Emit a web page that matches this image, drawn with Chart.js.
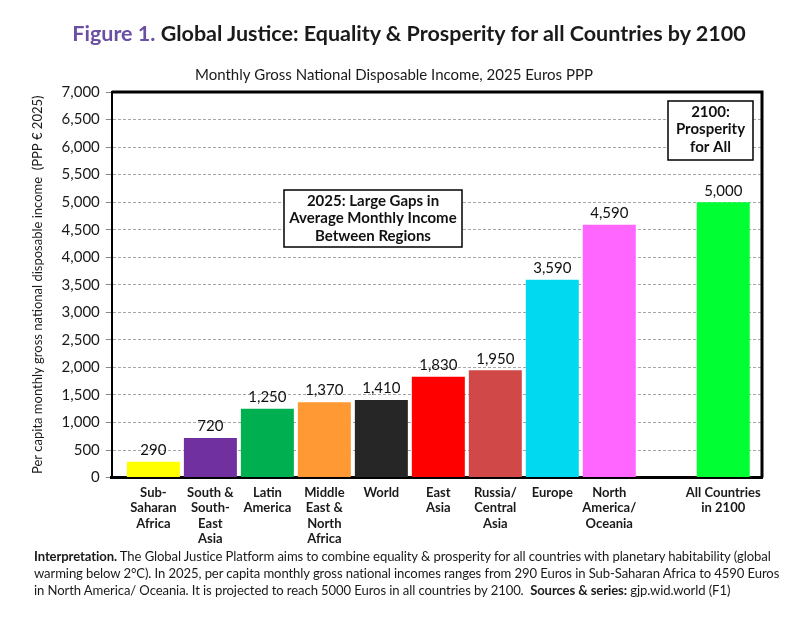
<!DOCTYPE html>
<html>
<head>
<meta charset="utf-8">
<script src="https://cdn.jsdelivr.net/npm/chart.js@4.4.1/dist/chart.umd.min.js"></script>
<style>
  body { margin: 0; background: #fff; font-family: Lato, sans-serif; }
  #wrap { position: relative; width: 810px; height: 624px; }
  #chart { position: absolute; left: 0; top: 0; }
  #title { position: absolute; left: 4px; width: 810px; top: 20px; text-align: center;
           font-size: 21.5px; font-weight: 700; color: #1a1a1a; white-space: nowrap; }
  #title span { color: #6b4fa3; }
  #note { position: absolute; left: 34px; top: 548px; font-size: 13.1px; line-height: 17px;
          color: #1a1a1a; white-space: nowrap; letter-spacing: -0.1px; }
</style>
</head>
<body>
<div id="wrap">
  <canvas id="chart" width="810" height="624"></canvas>
  <div id="title"><span>Figure 1.</span> Global Justice: Equality &amp; Prosperity for all Countries by 2100</div>
  <div id="note"><b>Interpretation.</b> The Global Justice Platform aims to combine equality &amp; prosperity for all countries with planetary habitability (global<br>warming below 2°C). In 2025, per capita monthly gross national incomes ranges from 290 Euros in Sub-Saharan Africa to 4590 Euros<br>in North America/ Oceania. It is projected to reach 5000 Euros in all countries by 2100.&nbsp; <b>Sources &amp; series:</b> gjp.wid.world (F1)</div>
</div>
<script>
const regions = [
    ['Sub-', 'Saharan', 'Africa'],
    ['South &', 'South-', 'East', 'Asia'],
    ['Latin', 'America'],
    ['Middle', 'East &', 'North', 'Africa'],
    ['World'],
    ['East', 'Asia'],
    ['Russia/', 'Central', 'Asia'],
    ['Europe'],
    ['North', 'America/', 'Oceania'],
    [],
    ['All Countries', 'in 2100']
];
const slots = [0, 1, 2, 3, 4, 5, 6, 7, 8, 10];
const income = [290, 720, 1250, 1370, 1410, 1830, 1950, 3590, 4590, 5000];
const barColors = ['#ffff00', '#7030a0', '#00b050', '#ff9933', '#262626',
                   '#ff0000', '#d04848', '#00d9ef', '#ff66ff', '#00ff33'];
const yTicks = [0, 500, 1000, 1500, 2000, 2500, 3000, 3500, 4000, 4500, 5000, 5500, 6000, 6500, 7000];

const fmt = (v) => v.toLocaleString('en-US');

// frame around the plot area
const framePlugin = {
    id: 'frame',
    afterDraw(chart) {
        const a = chart.chartArea, c = chart.ctx;
        c.save();
        c.strokeStyle = '#000';
        c.lineWidth = 3;
        c.beginPath();
        c.moveTo(a.left, a.top);
        c.lineTo(a.right, a.top);
        c.lineTo(a.right, a.bottom);
        c.stroke();
        c.restore();
    }
};

// value labels above bars
const valuePlugin = {
    id: 'values',
    afterDatasetsDraw(chart) {
        const c = chart.ctx;
        const meta = chart.getDatasetMeta(0);
        c.save();
        c.font = '15px Lato';
        c.fillStyle = '#111';
        c.textAlign = 'center';
        c.textBaseline = 'bottom';
        meta.data.forEach((bar, i) => {
            c.fillText(fmt(income[i]), bar.x, bar.y - 4);
        });
        c.restore();
    }
};

// text boxes
const notesPlugin = {
    id: 'notes',
    afterDraw(chart) {
        const c = chart.ctx;
        const boxes = [
            {x: 284, y: 190, w: 178, h: 57, lines: ['2025: Large Gaps in', 'Average Monthly Income', 'Between Regions']},
            {x: 668, y: 101, w: 85, h: 59, lines: ['2100:', 'Prosperity', 'for All']}
        ];
        c.save();
        boxes.forEach(b => {
            c.fillStyle = '#fff';
            c.fillRect(b.x, b.y, b.w, b.h);
            c.strokeStyle = '#000';
            c.lineWidth = 1.5;
            c.strokeRect(b.x, b.y, b.w, b.h);
            c.fillStyle = '#111';
            c.font = 'bold 15px Lato';
            c.textAlign = 'center';
            c.textBaseline = 'middle';
            b.lines.forEach((t, i) => {
                c.fillText(t, b.x + b.w / 2, b.y + 11 + i * 17.5);
            });
        });
        c.restore();
    }
};

new Chart(document.getElementById('chart'), {
    type: 'bar',
    data: {
        datasets: [{
            data: slots.map((s, i) => ({x: s, y: income[i]})),
            backgroundColor: barColors,
            barPercentage: 0.93,
            categoryPercentage: 1
        }]
    },
    options: {
        responsive: false,
        animation: false,
        layout: {padding: {left: 26, right: 48, top: 0, bottom: 70}},
        plugins: {
            legend: {display: false},
            tooltip: {enabled: false},
            title: {
                display: true,
                text: 'Monthly Gross National Disposable Income, 2025 Euros PPP',
                color: '#1a1a1a',
                font: {family: 'Lato', size: 15, weight: 'normal'},
                padding: {top: 66, bottom: 8}
            }
        },
        scales: {
            x: {
                type: 'linear',
                offset: false,
                min: -0.73,
                max: 10.68,
                afterBuildTicks(scale) {
                    scale.ticks = slots.map(v => ({value: v}));
                },
                grid: {display: false, drawTicks: false, offset: false},
                border: {color: '#000', width: 3},
                ticks: {
                    autoSkip: false,
                    maxRotation: 0,
                    padding: 7,
                    color: '#1a1a1a',
                    font: {family: 'Lato', size: 13, weight: 'bold', lineHeight: 1.2},
                    callback: (v) => regions[v] || ''
                }
            },
            y: {
                min: 0,
                max: 7000,
                afterBuildTicks(scale) {
                    scale.ticks = yTicks.map(v => ({value: v}));
                },
                grid: {
                    color: '#a6a6a6',
                    lineWidth: 1,
                    tickLength: 6,
                    tickColor: '#888',
                    tickBorderDash: []
                },
                border: {color: '#000', width: 2, dash: [3, 2]},
                ticks: {
                    padding: 6,
                    color: '#1a1a1a',
                    font: {family: 'Lato', size: 15},
                    callback: (v) => fmt(v)
                },
                title: {
                    display: true,
                    text: 'Per capita monthly gross national disposable income  (PPP € 2025)',
                    color: '#1a1a1a',
                    font: {family: 'Lato', size: 13},
                    padding: {top: 4, bottom: 10}
                }
            }
        }
    },
    plugins: [framePlugin, valuePlugin, notesPlugin]
});
</script>
</body>
</html>
